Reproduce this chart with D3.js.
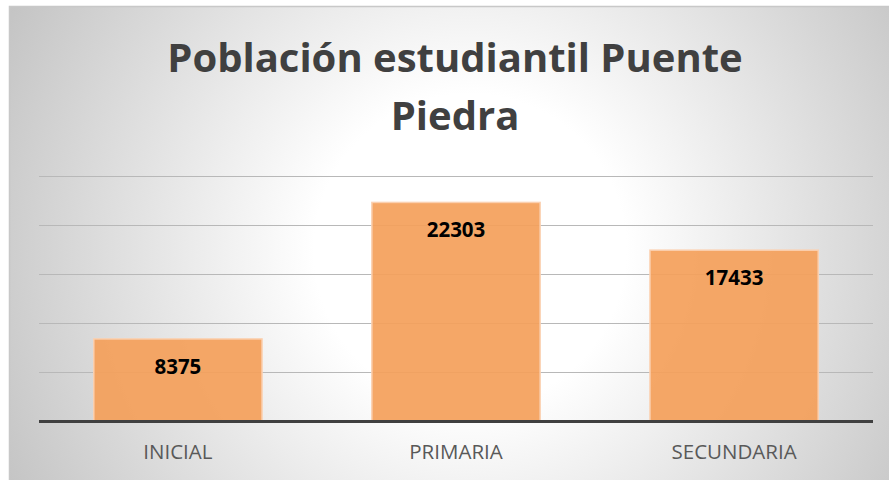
<!DOCTYPE html>
<html>
<head>
<meta charset="utf-8">
<script src="https://cdn.jsdelivr.net/npm/d3@7"></script>
<style>
  body { margin: 0; background: #fff; }
  svg { display: block; }
</style>
</head>
<body>
<div id="chart"></div>
<script>
var categories = ["INICIAL", "PRIMARIA", "SECUNDARIA"];
var values = [8375, 22303, 17433];
var yTicks = [0, 5000, 10000, 15000, 20000, 25000];
var titleLines = ["Población estudiantil Puente", "Piedra"];

var width = 889, height = 480;
var margin = { top: 176, right: 16, bottom: 59, left: 39 };

var svg = d3.select("#chart").append("svg")
    .attr("width", width)
    .attr("height", height);

// radial background
var defs = svg.append("defs");
var grad = defs.append("radialGradient")
    .attr("id", "bg")
    .attr("gradientUnits", "userSpaceOnUse")
    .attr("cx", 470).attr("cy", 250).attr("r", 520);
grad.append("stop").attr("offset", "0%").attr("stop-color", "#ffffff");
grad.append("stop").attr("offset", "30%").attr("stop-color", "#ffffff");
grad.append("stop").attr("offset", "100%").attr("stop-color", "#c4c4c4");

svg.append("rect")
    .attr("x", 9.5).attr("y", 6.5)
    .attr("width", width + 10).attr("height", height + 10)
    .attr("fill", "url(#bg)")
    .attr("stroke", "#c8c8c8")
    .attr("stroke-width", 1.5);

var x = d3.scaleBand()
    .domain(categories)
    .range([margin.left, width - margin.right])
    .paddingInner(0.395)
    .paddingOuter(0.197);

var y = d3.scaleLinear()
    .domain([0, 25000])
    .range([height - margin.bottom, margin.top]);

// gridlines
svg.append("g")
    .selectAll("line")
    .data(yTicks.slice(1))
    .enter().append("line")
    .attr("x1", margin.left)
    .attr("x2", width - margin.right)
    .attr("y1", d => Math.round(y(d)) + 0.5)
    .attr("y2", d => Math.round(y(d)) + 0.5)
    .attr("stroke", "#b8b8b8")
    .attr("stroke-width", 1);

// bars
svg.append("g")
    .selectAll("rect")
    .data(values)
    .enter().append("rect")
    .attr("x", (d, i) => x(categories[i]))
    .attr("y", d => y(d))
    .attr("width", x.bandwidth())
    .attr("height", d => y(0) - y(d))
    .attr("fill", "#F4A05A")
    .attr("fill-opacity", 0.92)
    .attr("stroke", "#fbd0b0")
    .attr("stroke-width", 1.5);

// baseline
svg.append("line")
    .attr("x1", margin.left)
    .attr("x2", width - margin.right)
    .attr("y1", y(0) + 0.5)
    .attr("y2", y(0) + 0.5)
    .attr("stroke", "#404040")
    .attr("stroke-width", 3);

// value labels
svg.append("g")
    .selectAll("text")
    .data(values)
    .enter().append("text")
    .attr("x", (d, i) => x(categories[i]) + x.bandwidth() / 2)
    .attr("y", d => y(d) + 35)
    .attr("text-anchor", "middle")
    .attr("font-family", "'Open Sans', sans-serif")
    .attr("font-weight", "bold")
    .attr("font-size", 20.5)
    .attr("fill", "#000")
    .text(d => d);

// category labels
svg.append("g")
    .selectAll("text")
    .data(categories)
    .enter().append("text")
    .attr("x", d => x(d) + x.bandwidth() / 2)
    .attr("y", y(0) + 38)
    .attr("text-anchor", "middle")
    .attr("font-family", "'Open Sans', sans-serif")
    .attr("font-size", 20.5)
    .attr("fill", "#595959")
    .text(d => d);

// title
svg.append("g")
    .selectAll("text")
    .data(titleLines)
    .enter().append("text")
    .attr("x", 455)
    .attr("y", (d, i) => 72 + i * 58)
    .attr("text-anchor", "middle")
    .attr("font-family", "'Open Sans', sans-serif")
    .attr("font-weight", "bold")
    .attr("font-size", 40)
    .attr("fill", "#404040")
    .text(d => d);
</script>
</body>
</html>
